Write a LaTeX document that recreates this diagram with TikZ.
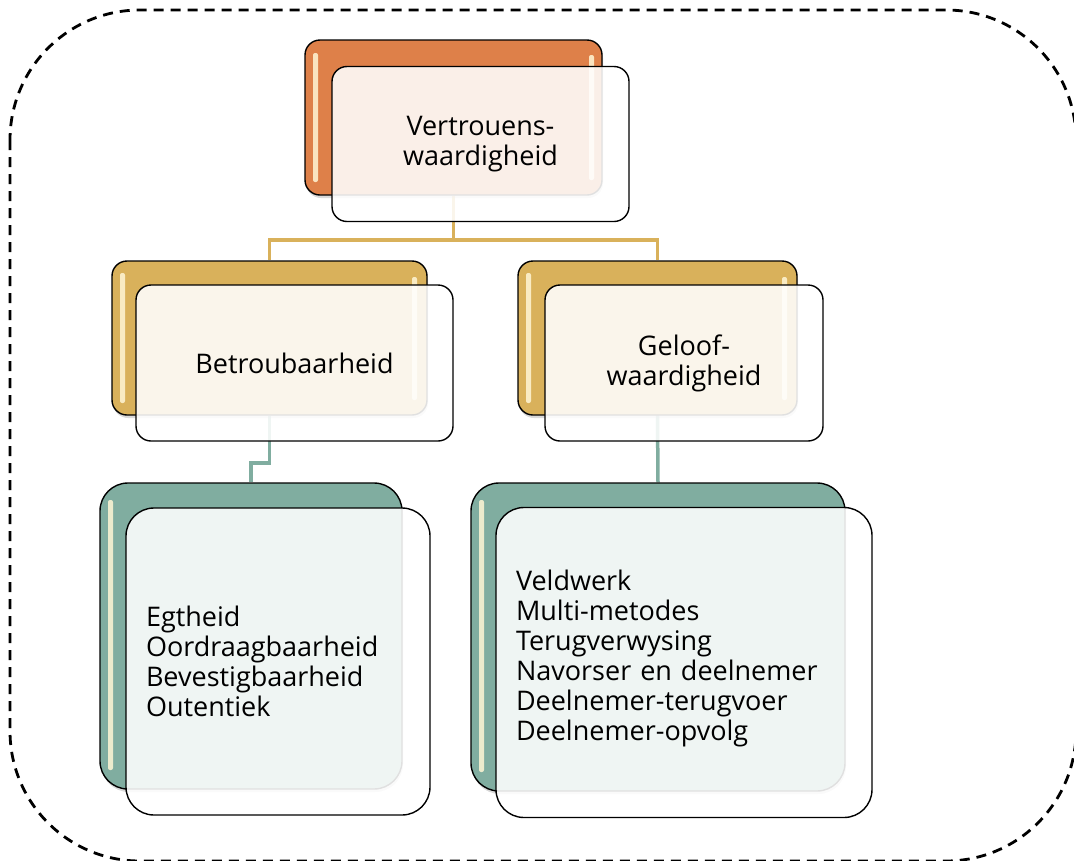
\documentclass[tikz,border=0pt]{standalone}
\usepackage{fontspec}
\setmainfont{Open Sans}
\usetikzlibrary{shadows}
\pgfdeclarelayer{background}
\pgfsetlayers{background,main}
\definecolor{boxorange}{HTML}{DE8049}
\definecolor{boxgold}{HTML}{D9B15B}
\definecolor{boxteal}{HTML}{80ADA0}
\definecolor{gloss}{HTML}{FFF6D6}
\begin{document}
\begin{tikzpicture}[x=1pt,y=-1pt,
  every node/.style={font=\fontsize{27}{30}\selectfont, inner sep=0pt},
  backbox/.style={draw=black, line width=1.4pt,
    drop shadow={opacity=0.3, shadow xshift=1pt, shadow yshift=-3pt}},
  frontbox/.style={draw=black, line width=1.4pt, fill=white, fill opacity=0.88,
    text opacity=1, draw opacity=1},
  smallr/.style={rounded corners=15pt},
  larger/.style={rounded corners=28pt},
  glossy/.style={fill=gloss, draw=none, rounded corners=2pt, opacity=0.85},
  goldline/.style={draw=boxgold, line width=3.5pt},
  tealline/.style={draw=boxteal, line width=3.5pt},
  border/.style={draw=black, line width=2.8pt, dash pattern=on 10pt off 7pt,
    rounded corners=130pt}]
\useasboundingbox (0,0) rectangle (1074,860);

% ---- level 1 ----
\node[backbox, smallr, fill=boxorange, minimum width=297pt, minimum height=155pt] (topB) at (453.5,117.5) {};
\fill[glossy] (313,53) rectangle (318,182);
\fill[glossy] (589,55) rectangle (594,180);
\node[frontbox, smallr, minimum width=297pt, minimum height=155pt, align=center] (topF) at (480.5,144)
  {Vertrouens-\\waardigheid};

% ---- level 2 ----
\node[backbox, smallr, fill=boxgold, minimum width=315pt, minimum height=154pt] (betB) at (269.5,338) {};
\fill[glossy] (120,273) rectangle (125,403);
\fill[glossy] (412,277) rectangle (417,400);
\node[frontbox, smallr, minimum width=317pt, minimum height=156pt, align=center] (betF) at (294.5,363)
  {Betroubaarheid};

\node[backbox, smallr, fill=boxgold, minimum width=279pt, minimum height=154pt] (gelB) at (657.5,338) {};
\fill[glossy] (526,273) rectangle (531,403);
\fill[glossy] (782,277) rectangle (787,400);
\node[frontbox, smallr, minimum width=278pt, minimum height=156pt, align=center] (gelF) at (684,363)
  {Geloof-\\waardigheid};

% ---- level 3 ----
\node[backbox, larger, fill=boxteal, minimum width=302pt, minimum height=306pt] (egtB) at (251,636) {};
\fill[glossy] (108,500) rectangle (113,770);
\node[frontbox, larger, text width=264pt, inner xsep=20pt, minimum height=307pt, align=left] (egtF) at (278,661.5)
  {Egtheid\\Oordraagbaarheid\\Bevestigbaarheid\\Outentiek};

\node[backbox, larger, fill=boxteal, minimum width=374pt, minimum height=308pt] (velB) at (658,637) {};
\fill[glossy] (479,500) rectangle (484,772);
\node[frontbox, larger, text width=336pt, inner xsep=20pt, minimum height=310pt, align=left] (velF) at (684,662.5)
  {Veldwerk\\Multi-metodes\\Terugverwysing\\Navorser en deelnemer\\Deelnemer-terugvoer\\Deelnemer-opvolg\\[-16pt]\mbox{}};

% ---- frame and connectors, behind the boxes ----
\begin{pgfonlayer}{background}
  \draw[border] (10,10) rectangle (1076,861);
  \coordinate (bus) at (453.5,240);
  \coordinate (kink) at (269.5,463);
  \draw[goldline] (topB.south) -- (bus) -| (betB.north);
  \draw[goldline] (bus) -| (gelB.north);
  \draw[tealline] (betB.south) -- (kink) -| (egtB.north);
  \draw[tealline] (gelB.south) -- (velB.north);
\end{pgfonlayer}
\end{tikzpicture}
\end{document}
